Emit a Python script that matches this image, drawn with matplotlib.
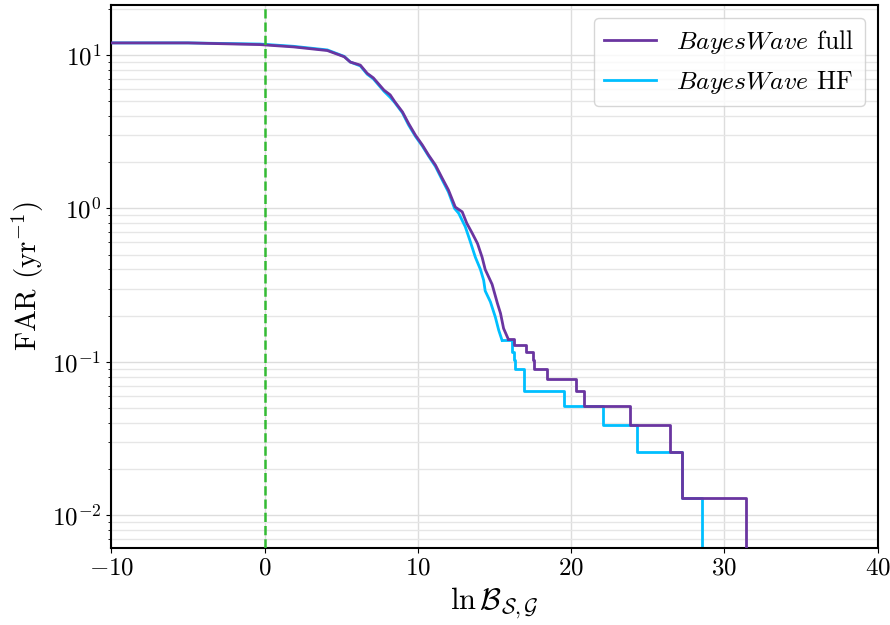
import matplotlib
matplotlib.use("Agg")
import matplotlib.pyplot as plt
import matplotlib.ticker as ticker

plt.rcParams['font.family'] = 'serif'
plt.rcParams['font.serif'] = ['cmr10']
plt.rcParams['mathtext.fontset'] = 'cm'
plt.rcParams['axes.formatter.use_mathtext'] = True
plt.rcParams['axes.unicode_minus'] = False
plt.rcParams['font.size'] = 18

# BayesWave full, densely populated part of the curve (ln B vs FAR)
lnb_full = [-12, -5, -0.3, 1.9, 4.1, 5.2, 5.6, 6.25, 6.7, 7.1, 7.8, 8.2, 8.5, 9.0, 9.4,
            9.85, 10.3, 10.7, 11.15, 11.6, 12.0, 12.45, 12.9, 13.2, 13.55, 13.9, 14.2,
            14.4, 14.85, 15.2, 15.4, 15.6, 15.9]
far_full = [12.0, 12.0, 11.7, 11.3, 10.7, 9.75, 9.0, 8.6, 7.6, 7.1, 5.9, 5.5, 4.96, 4.26, 3.58,
            3.0, 2.59, 2.23, 1.92, 1.57, 1.32, 1.02, 0.95, 0.80, 0.69, 0.59, 0.48,
            0.40, 0.32, 0.24, 0.207, 0.165, 0.141]
# BayesWave full, sparse tail (step, value holds until next threshold)
lnb_full_tail = [15.9, 16.3, 17.05, 17.5, 17.57, 18.44, 20.35, 20.87, 23.83, 26.44, 27.25, 31.4]
far_full_tail = [0.141, 0.1285, 0.1157, 0.1028, 0.09, 0.0771, 0.0643, 0.0514, 0.0386, 0.0257,
                 0.01285, 0.001]

# BayesWave HF
lnb_hf = [-12, -5, -0.3, 1.9, 4.1, 5.2, 5.6, 6.25, 6.7, 7.1, 7.8, 8.2, 8.5, 9.0, 9.4,
          9.85, 10.3, 10.7, 11.15, 11.6, 12.0, 12.4, 12.67, 13.1, 13.4, 13.76, 14.09,
          14.3, 14.4, 14.74, 15.06, 15.28, 15.5]
far_hf = [12.0, 12.0, 11.8, 11.4, 10.8, 9.8, 9.0, 8.5, 7.5, 7.0, 5.8, 5.3, 4.9, 4.2, 3.5,
          2.95, 2.55, 2.2, 1.88, 1.53, 1.28, 1.0, 0.93, 0.76, 0.62, 0.48, 0.40,
          0.34, 0.29, 0.246, 0.196, 0.161, 0.138]
lnb_hf_tail = [15.5, 16.15, 16.25, 16.37, 16.9, 19.57, 22.07, 24.31, 27.25, 28.56]
far_hf_tail = [0.138, 0.1157, 0.1028, 0.09, 0.0643, 0.0514, 0.0386, 0.0257, 0.01285, 0.001]

c_full = '#6a35a0'
c_hf = '#00bfff'

fig = plt.figure(figsize=(8.9, 6.25), dpi=100)
ax = fig.add_axes([0.125, 0.123, 0.861, 0.869])

ax.plot(lnb_full, far_full, color=c_full, lw=2, label=r'$BayesWave$ full', zorder=3)
ax.step(lnb_full_tail, far_full_tail, where='post', color=c_full, lw=2, zorder=3)
ax.plot(lnb_hf, far_hf, color=c_hf, lw=2, label=r'$BayesWave$ HF', zorder=2)
ax.step(lnb_hf_tail, far_hf_tail, where='post', color=c_hf, lw=2, zorder=2)
ax.axvline(0, color='#33bb33', ls='--', lw=1.8, zorder=4)

ax.set_yscale('log')
ax.set_xlim(-10, 40)
ax.set_ylim(0.0061, 21.2)
ax.xaxis.set_major_locator(ticker.MultipleLocator(10))
ax.xaxis.set_major_formatter(ticker.FuncFormatter(lambda v, p: r'$%d$' % round(v)))

ax.grid(True, which='major', color='#dddddd', lw=1)
ax.grid(True, which='minor', axis='y', color='#e6e6e6', lw=1)
ax.set_axisbelow(True)
for s in ax.spines.values():
    s.set_linewidth(1.5)

ax.set_xlabel(r'$\ln\mathcal{B}_{\mathcal{S},\mathcal{G}}$', fontsize=22)
ax.set_ylabel(r'FAR $(\mathrm{yr}^{-1})$', fontsize=21)
ax.legend(loc='upper right', fontsize=18.5)

fig.savefig('out.png', dpi=100)
